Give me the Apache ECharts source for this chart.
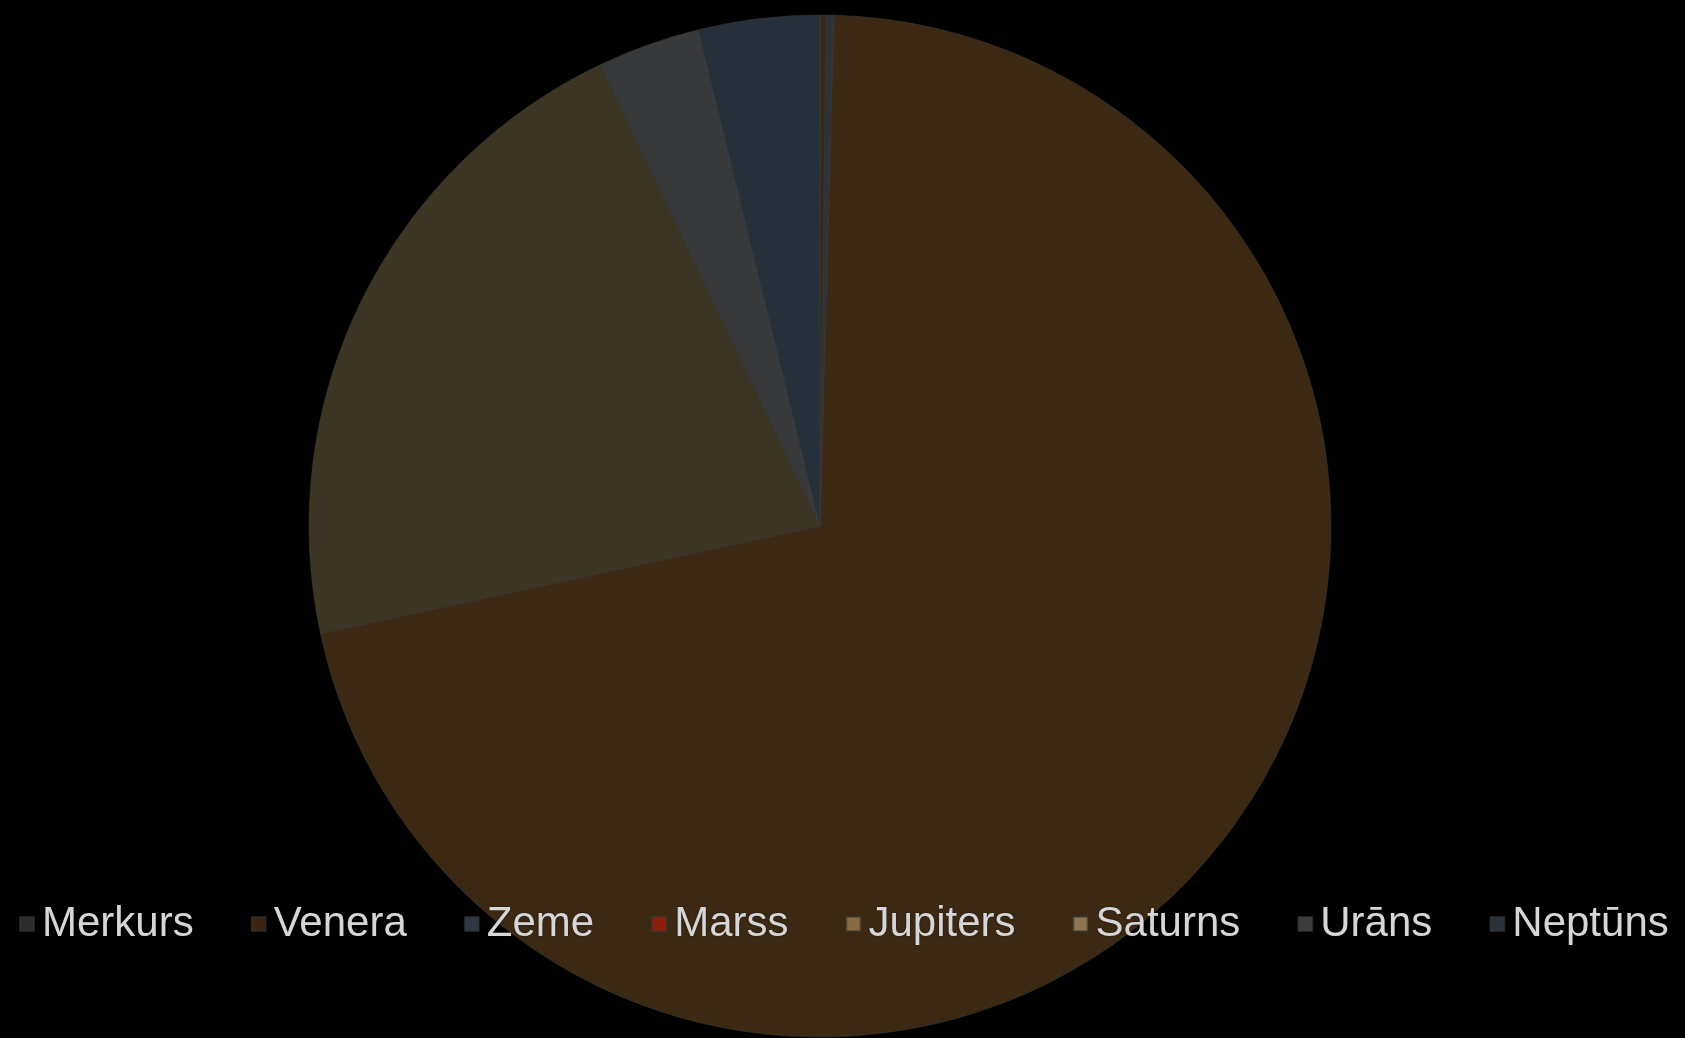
<!DOCTYPE html>
<html><head><meta charset="utf-8">
<script src="https://cdn.jsdelivr.net/npm/echarts@6/dist/echarts.min.js"></script>
<style>html,body{margin:0;padding:0;background:#000;}#c{width:1685px;height:1038px;}</style>
</head><body><div id="c"></div>
<script>
const planets = ['Merkurs','Venera','Zeme','Marss','Jupiters','Saturns','Urāns','Neptūns'];
const masses = [0.330, 4.87, 5.97, 0.642, 1898, 568, 86.8, 102];
const sliceColors = ['#2b2b2b','#3a2614','#2c323c','#6a1a0c','#3c2914','#3c3523','#38393b','#25303b'];
const legendColors = ['#2b2b2b','#3a2410','#2f3542','#8e1c0c','#8a6a40','#8e7652','#3c3c3c','#2b313a'];

const chart = echarts.init(document.getElementById('c'), null, {renderer:'canvas'});
chart.setOption({
  backgroundColor: '#000',
  animation: false,
  legend: {
    left: 14, top: 898,
    itemWidth: 14, itemHeight: 14, itemGap: 57,
    icon: 'rect',
    textStyle: {color:'#d6d6d6', fontSize:42, fontFamily:'Liberation Sans, Arial, sans-serif', padding:[0,0,0,3],
      textShadowColor:'rgba(0,0,0,0.6)', textShadowBlur:2},
    data: planets.map((n,i)=>({name:n, itemStyle:{color:legendColors[i]}}))
  },
  series: [{
    type: 'pie',
    center: [820, 526],
    radius: [0, 511],
    startAngle: 90,
    clockwise: true,
    label: {show:false},
    labelLine: {show:false},
    itemStyle: {borderColor:'rgba(60,60,60,0.5)', borderWidth:1},
    data: planets.map((n,i)=>({name:n, value:masses[i], itemStyle:{color:sliceColors[i]}}))
  }]
});
</script></body></html>
